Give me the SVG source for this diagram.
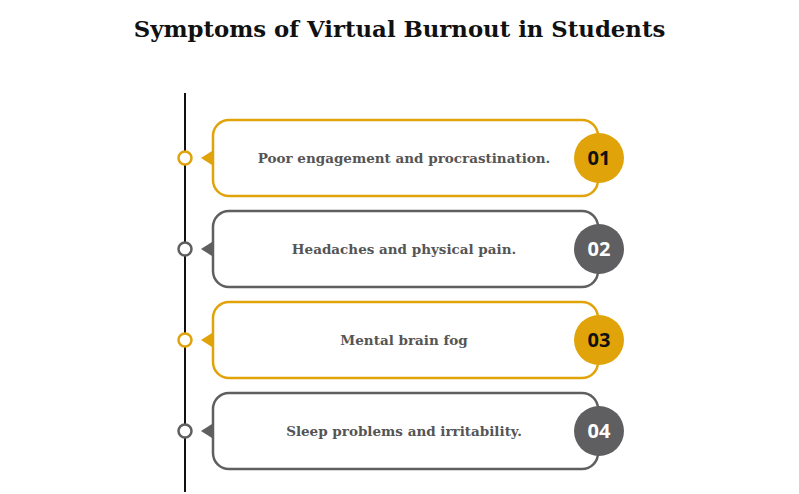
<svg xmlns="http://www.w3.org/2000/svg" width="799" height="494" viewBox="0 0 799 494">
<style>
.t{font-family:"DejaVu Serif","Liberation Serif",serif;font-weight:bold}
.lbl{font-family:"DejaVu Serif","Liberation Serif",serif;font-weight:bold;font-size:13.5px;fill:#555;text-anchor:middle}
.num{font-family:"Open Sans","Liberation Sans",sans-serif;font-weight:bold;font-size:20px;text-anchor:middle}
.box{fill:#fff;stroke-width:2.5}
.dot{fill:#fff;stroke-width:2.5}
.g .box,.g .dot{stroke:#e0a30a}.g .tri,.g .badge{fill:#e0a30a}.g .num{fill:#111}
.d .box,.d .dot{stroke:#5f5e60}.d .tri,.d .badge{fill:#5f5e60}.d .num{fill:#fff}
</style>
<rect width="799" height="494" fill="#fff"/>
<text class="t" x="399.5" y="37" font-size="22.8" text-anchor="middle" fill="#111">Symptoms of Virtual Burnout in Students</text>
<g id="connectors"><line x1="185" y1="93" x2="185" y2="492" stroke="#111" stroke-width="2"/></g>
<g id="n1" class="g" transform="translate(0,158)">
<rect class="box" x="213" y="-38" width="385" height="76" rx="16"/>
<polygon class="tri" points="201,0 212,-7 212,7"/>
<circle class="dot" cx="185" cy="0" r="6.5"/>
<circle class="badge" cx="599" cy="0" r="25"/>
<text class="lbl" x="404" y="5">Poor engagement and procrastination.</text>
<text class="num" x="599" y="7">01</text></g>
<g id="n2" class="d" transform="translate(0,249)">
<rect class="box" x="213" y="-38" width="385" height="76" rx="16"/>
<polygon class="tri" points="201,0 212,-7 212,7"/>
<circle class="dot" cx="185" cy="0" r="6.5"/>
<circle class="badge" cx="599" cy="0" r="25"/>
<text class="lbl" x="404" y="5">Headaches and physical pain.</text>
<text class="num" x="599" y="7">02</text></g>
<g id="n3" class="g" transform="translate(0,340)">
<rect class="box" x="213" y="-38" width="385" height="76" rx="16"/>
<polygon class="tri" points="201,0 212,-7 212,7"/>
<circle class="dot" cx="185" cy="0" r="6.5"/>
<circle class="badge" cx="599" cy="0" r="25"/>
<text class="lbl" x="404" y="5">Mental brain fog</text>
<text class="num" x="599" y="7">03</text></g>
<g id="n4" class="d" transform="translate(0,431)">
<rect class="box" x="213" y="-38" width="385" height="76" rx="16"/>
<polygon class="tri" points="201,0 212,-7 212,7"/>
<circle class="dot" cx="185" cy="0" r="6.5"/>
<circle class="badge" cx="599" cy="0" r="25"/>
<text class="lbl" x="404" y="5">Sleep problems and irritability.</text>
<text class="num" x="599" y="7">04</text></g>
</svg>
